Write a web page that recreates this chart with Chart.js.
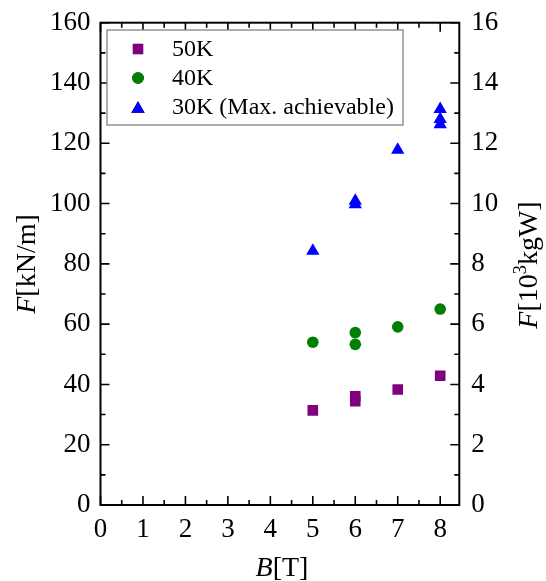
<!DOCTYPE html>
<html>
<head>
<meta charset="utf-8">
<script src="https://cdn.jsdelivr.net/npm/chart.js@4"></script>
<style>
  body { margin: 0; background: #fff; }
  #wrap { width: 546px; height: 581px; }
</style>
</head>
<body>
<div id="wrap"><canvas id="chart"></canvas></div>
<script>
// B [T] and F [kN/m]
const b50 = [5, 6, 6, 7, 8];
const f50 = [31.4, 36.1, 34.4, 38.3, 42.9];

const b40 = [5, 6, 6, 7, 8];
const f40 = [54, 57.2, 53.3, 59.1, 65];

const b30 = [5, 6, 6, 7, 8, 8, 8];
const f30 = [84.3, 100.9, 99.7, 117.8, 131.3, 128, 126.3];

const seriesLabels = ['50K', '40K', '30K (Max. achievable)'];

const xTicks = [0, 1, 2, 3, 4, 5, 6, 7, 8];
const yTicks = [0, 20, 40, 60, 80, 100, 120, 140, 160];
const y2Ticks = [0, 2, 4, 6, 8, 10, 12, 14, 16];

const SERIF = "'Liberation Serif', 'DejaVu Serif', serif";
Chart.defaults.font.family = SERIF;
Chart.defaults.color = '#000';

function pts(xs, ys) {
  return xs.map((x, i) => ({ x: x, y: ys[i] }));
}

function setTicks(values) {
  return scale => { scale.ticks = values.map(v => ({ value: v })); };
}

// fixed axis size, and no extra room for end labels
function fixSize(w, h) {
  return s => {
    if (w !== null) s.width = w;
    if (h !== null) s.height = h;
    s.paddingTop = s.paddingBottom = s.paddingLeft = s.paddingRight = 0;
  };
}

// draw text made of plain / italic / superscript pieces, centred on (x, y)
function drawRich(ctx, parts, x, y, rot, size) {
  ctx.save();
  ctx.translate(x, y);
  ctx.rotate(rot);
  ctx.textBaseline = 'alphabetic';
  ctx.textAlign = 'left';
  ctx.fillStyle = '#000';
  const fontOf = p => (p.italic ? 'italic ' : '') + (p.sup ? size * 0.65 : size) + 'px ' + SERIF;
  let total = 0;
  parts.forEach(p => { ctx.font = fontOf(p); total += ctx.measureText(p.t).width; });
  let cx = -total / 2;
  parts.forEach(p => {
    ctx.font = fontOf(p);
    ctx.fillText(p.t, cx, p.sup ? -size * 0.38 : 0);
    cx += ctx.measureText(p.t).width;
  });
  ctx.restore();
}

const framePlugin = {
  id: 'frame',
  afterDraw(chart) {
    const ctx = chart.ctx;
    const a = chart.chartArea;
    const sx = chart.scales.x, sy = chart.scales.y, sy2 = chart.scales.y2;
    const major = 9, minor = 5;

    ctx.save();
    ctx.strokeStyle = '#000';
    ctx.lineWidth = 1.6;
    ctx.beginPath();
    // x ticks, bottom and top
    xTicks.forEach(v => {
      [v, v + 0.5].forEach((t, k) => {
        if (t > sx.max) return;
        const px = sx.getPixelForValue(t);
        const len = k === 0 ? major : minor;
        ctx.moveTo(px, a.bottom); ctx.lineTo(px, a.bottom - len);
        ctx.moveTo(px, a.top); ctx.lineTo(px, a.top + len);
      });
    });
    // left ticks
    yTicks.forEach(v => {
      [v, v + 10].forEach((t, k) => {
        if (t > sy.max) return;
        const py = sy.getPixelForValue(t);
        ctx.moveTo(a.left, py); ctx.lineTo(a.left + (k === 0 ? major : minor), py);
      });
    });
    // right ticks
    y2Ticks.forEach(v => {
      [v, v + 1].forEach((t, k) => {
        if (t > sy2.max) return;
        const py = sy2.getPixelForValue(t);
        ctx.moveTo(a.right, py); ctx.lineTo(a.right - (k === 0 ? major : minor), py);
      });
    });
    ctx.stroke();

    ctx.lineWidth = 2;
    ctx.strokeRect(a.left, a.top, a.right - a.left, a.bottom - a.top);

    // legend box
    ctx.lineWidth = 1.2;
    ctx.strokeStyle = '#777';
    ctx.fillStyle = '#fff';
    ctx.fillRect(107, 30, 296, 95);
    ctx.strokeRect(107, 30, 296, 95);
    const rows = [49, 78, 107];
    chart.data.datasets.forEach((ds, i) => {
      Chart.helpers.drawPoint(ctx, {
        pointStyle: ds.pointStyle,
        radius: ds.pointRadius,
        borderWidth: 0
      }, 138, rows[i] + (ds.pointStyle === 'triangle' ? ds.pointRadius / 4 : 0));
      ctx.fillStyle = ds.backgroundColor;
      ctx.fill();
      ctx.fillStyle = '#000';
      ctx.font = '24px ' + SERIF;
      ctx.textBaseline = 'middle';
      ctx.textAlign = 'left';
      ctx.fillText(ds.label, 172, rows[i] + 1);
    });
    ctx.restore();

    drawRich(ctx, [{ t: 'F', italic: true }, { t: '[kN/m]' }], 35, 264, -Math.PI / 2, 28);
    drawRich(ctx, [{ t: 'F', italic: true }, { t: '[10' }, { t: '3', sup: true }, { t: 'kgW]' }], 537, 265, -Math.PI / 2, 28);
    drawRich(ctx, [{ t: 'B', italic: true }, { t: '[T]' }], 282, 576, 0, 28);
  }
};

function mark(label, data, color, style, r) {
  return {
    label: label,
    data: data,
    backgroundColor: color,
    borderColor: color,
    borderWidth: 0,
    pointStyle: style,
    pointRadius: r,
    pointHoverRadius: r,
    yAxisID: 'y'
  };
}

new Chart(document.getElementById('chart'), {
  type: 'scatter',
  data: {
    datasets: [
      mark(seriesLabels[0], pts(b50, f50), '#800080', 'rect', 7.5),
      mark(seriesLabels[1], pts(b40, f40), '#008000', 'circle', 5.8),
      mark(seriesLabels[2], pts(b30, f30), '#0000ff', 'triangle', 7.7)
    ]
  },
  options: {
    responsive: true,
    maintainAspectRatio: false,
    animation: false,
    events: [],
    layout: { padding: { top: 22.7, left: 0, right: 0, bottom: 0 } },
    plugins: { legend: { display: false }, tooltip: { enabled: false } },
    scales: {
      x: {
        type: 'linear',
        min: 0,
        max: 8.45,
        afterBuildTicks: setTicks(xTicks),
        afterFit: fixSize(null, 76),
        grid: { display: false, drawTicks: false },
        border: { display: false },
        ticks: { font: { size: 27 }, padding: 9, maxRotation: 0, autoSkip: false }
      },
      y: {
        position: 'left',
        min: 0,
        max: 160,
        afterBuildTicks: setTicks(yTicks),
        afterFit: fixSize(100.5, null),
        grid: { display: false, drawTicks: false },
        border: { display: false },
        ticks: { font: { size: 27 }, padding: 10, autoSkip: false }
      },
      y2: {
        position: 'right',
        min: 0,
        max: 16,
        afterBuildTicks: setTicks(y2Ticks),
        afterFit: fixSize(86.7, null),
        grid: { display: false, drawTicks: false },
        border: { display: false },
        ticks: { font: { size: 27 }, padding: 12, autoSkip: false }
      }
    }
  },
  plugins: [framePlugin]
});
</script>
</body>
</html>
